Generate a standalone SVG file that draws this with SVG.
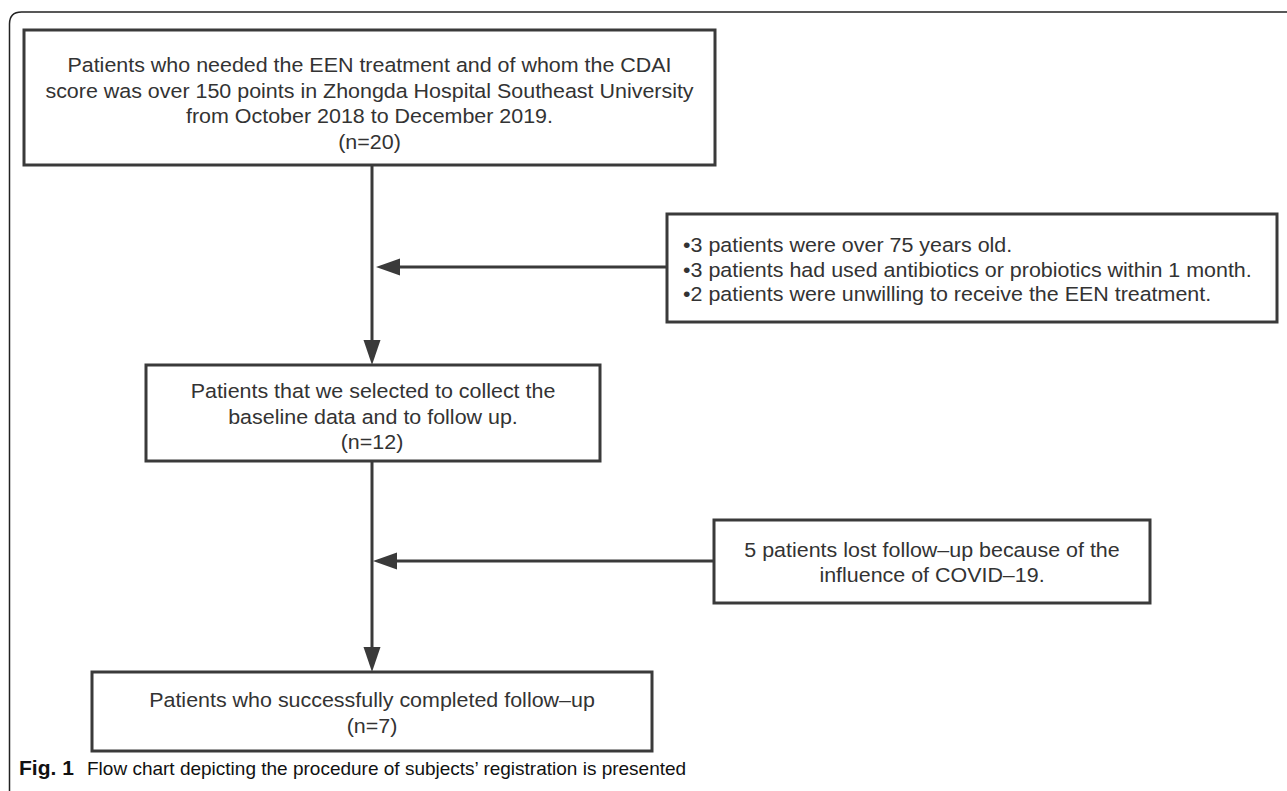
<svg xmlns="http://www.w3.org/2000/svg" width="1287" height="791" viewBox="0 0 1287 791">
<style>
.box{fill:#fff;stroke:#3a3a3a;stroke-width:3}
.t{font-family:"Liberation Sans",Arial,sans-serif;font-size:19.5px;fill:#333}
.c{text-anchor:middle}
.ln{stroke:#3a3a3a;stroke-width:3;fill:none}
.ah{fill:#3a3a3a}
.frame{fill:none;stroke:#222;stroke-width:1.5}
.cap{font-family:"Liberation Sans",Arial,sans-serif;font-size:19px;fill:#111}
</style>
<rect width="1287" height="791" fill="#fff"/>
<path class="frame" d="M9.5 791 V24 Q9.5 12 21.5 12 H1287"/>
<g id="connectors">
<line class="ln" x1="372" y1="165" x2="372" y2="342"/>
<polygon class="ah" points="372,365 363.5,340 380.5,340"/>
<line class="ln" x1="667" y1="267" x2="398" y2="267"/>
<polygon class="ah" points="376,267 400,258.5 400,275.5"/>
<line class="ln" x1="372" y1="461" x2="372" y2="649"/>
<polygon class="ah" points="372,672 363.5,647 380.5,647"/>
<line class="ln" x1="714" y1="561" x2="395" y2="561"/>
<polygon class="ah" points="373,561 397,552.5 397,569.5"/>
</g>
<g id="n1">
<rect class="box" x="24" y="30" width="691" height="135"/>
<text class="t c" transform="translate(369.5 72) scale(1.1 1)">Patients who needed the EEN treatment and of whom the CDAI</text>
<text class="t c" transform="translate(369.5 97.5) scale(1.1 1)">score was over 150 points in Zhongda Hospital Southeast University</text>
<text class="t c" transform="translate(369.5 123) scale(1.1 1)">from October 2018 to December 2019.</text>
<text class="t c" transform="translate(369.5 148.5) scale(1.1 1)">(n=20)</text>
</g>
<g id="n2">
<rect class="box" x="667" y="214" width="610" height="108"/>
<text class="t" transform="translate(683 252) scale(1.1 1)">•3 patients were over 75 years old.</text>
<text class="t" transform="translate(683 276.5) scale(1.1 1)">•3 patients had used antibiotics or probiotics within 1 month.</text>
<text class="t" transform="translate(683 301) scale(1.1 1)">•2 patients were unwilling to receive the EEN treatment.</text>
</g>
<g id="n3">
<rect class="box" x="146" y="365" width="454" height="96"/>
<text class="t c" transform="translate(373 398) scale(1.1 1)">Patients that we selected to collect the</text>
<text class="t c" transform="translate(373 423.5) scale(1.1 1)">baseline data and to follow up.</text>
<text class="t c" transform="translate(372 449) scale(1.1 1)">(n=12)</text>
</g>
<g id="n4">
<rect class="box" x="714" y="520" width="436" height="83"/>
<text class="t c" transform="translate(932 557) scale(1.1 1)">5 patients lost follow–up because of the</text>
<text class="t c" transform="translate(932 582) scale(1.1 1)">influence of COVID–19.</text>
</g>
<g id="n5">
<rect class="box" x="92" y="672" width="560" height="79"/>
<text class="t c" transform="translate(372 707) scale(1.1 1)">Patients who successfully completed follow–up</text>
<text class="t c" transform="translate(372 733) scale(1.1 1)">(n=7)</text>
</g>
<g id="caption">
<text class="cap" x="19" y="775"><tspan font-weight="bold" font-size="21px">Fig. 1</tspan><tspan x="87">Flow chart depicting the procedure of subjects’ registration is presented</tspan></text>
</g>
</svg>
